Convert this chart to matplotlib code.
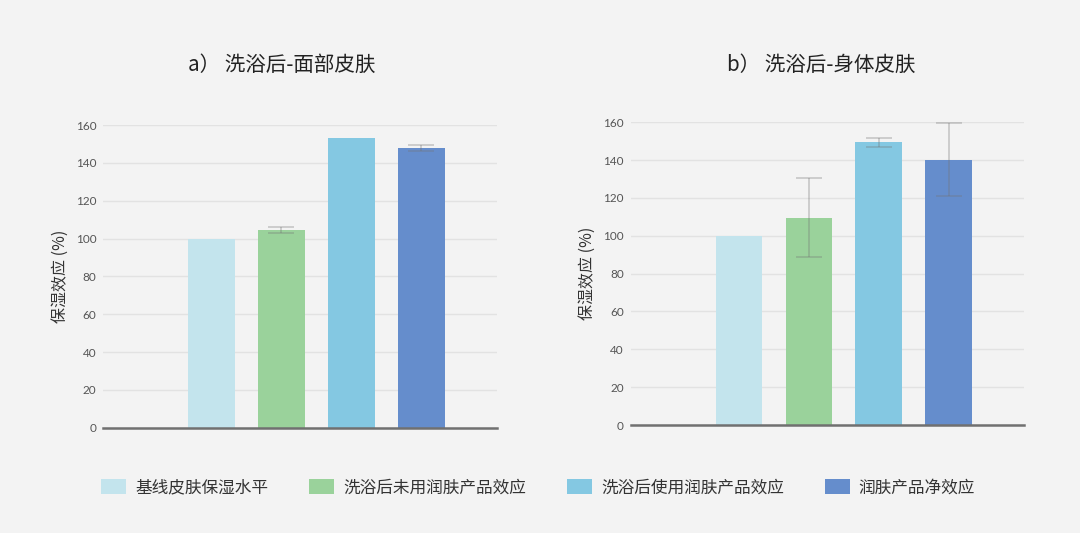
import matplotlib
matplotlib.use("Agg")
import matplotlib.pyplot as plt
from matplotlib.patches import Patch

plt.rcParams['font.family'] = ['Noto Sans CJK SC', 'DejaVu Sans']

categories = ["基线皮肤保湿水平", "洗浴后未用润肤产品效应", "洗浴后使用润肤产品效应", "润肤产品净效应"]
colors = ["#c3e4ed", "#9ad29b", "#84c8e2", "#658dcc"]

face_values = [100, 104.3, 153.3, 147.8]
face_errors = [0, 1.6, 0, 1.8]
body_values = [100, 109.6, 149.4, 140.2]
body_errors = [0, 21.0, 2.5, 19.2]

titles = ["a） 洗浴后-面部皮肤", "b） 洗浴后-身体皮肤"]
ylabel = "保湿效应 (%)"
yticks = [0, 20, 40, 60, 80, 100, 120, 140, 160]

W, H = 1080, 533
fig = plt.figure(figsize=(W / 100, H / 100), dpi=100)
fig.patch.set_facecolor("#f3f3f3")

panels = [
    (face_values, face_errors, (103.3, 427.7, 496.7, 125.0), titles[0], 282),
    (body_values, body_errors, (630.7, 425.0, 1024.3, 122.3), titles[1], 821),
]

for vals, errs, (x0, yb, x1, yt), title, tx in panels:
    ax = fig.add_axes([x0 / W, 1 - yb / H, (x1 - x0) / W, (yb - yt) / H])
    ax.set_facecolor("#f3f3f3")
    xs = list(range(1, len(vals) + 1))
    ax.bar(xs, vals, width=0.67, color=colors, zorder=2)
    for x, v, e in zip(xs, vals, errs):
        if e > 0:
            ax.errorbar(x, v, yerr=e, fmt="none", ecolor=(0.45, 0.45, 0.45, 0.35),
                        elinewidth=1.2, capsize=9.5, capthick=1.2, zorder=3, clip_on=False)
    ax.set_xlim(-0.55, 5.08)
    ax.set_ylim(0, 160)
    ax.set_yticks(yticks)
    ax.set_xticks([])
    ax.tick_params(axis="y", length=0, pad=5, labelsize=8.5, labelcolor="#555555")
    for lab in ax.get_yticklabels():
        lab.set_family(["Lato", "DejaVu Sans"])
    ax.grid(axis="y", color="#e2e2e2", linewidth=1.0, zorder=0)
    ax.set_axisbelow(True)
    for s in ["top", "right", "left"]:
        ax.spines[s].set_visible(False)
    ax.spines["bottom"].set_color("#707070")
    ax.spines["bottom"].set_linewidth(1.8)
    ax.spines["bottom"].set_zorder(4)
    ax.set_ylabel(ylabel, fontsize=11.5, color="#333333", labelpad=5)
    fig.text(tx / W, 1 - 65 / H, title, ha="center", va="center", fontsize=14.8, color="#222222")

handles = [Patch(facecolor=c, edgecolor="none") for c in colors]
fig.legend(handles, categories, loc="center", bbox_to_anchor=(538 / W, 1 - 488 / H),
           ncol=4, frameon=False, fontsize=12, handlelength=1.5, handleheight=1.0,
           handletextpad=0.55, columnspacing=2.45, labelcolor="#333333")

fig.savefig("out.png", dpi=100, facecolor=fig.get_facecolor())
